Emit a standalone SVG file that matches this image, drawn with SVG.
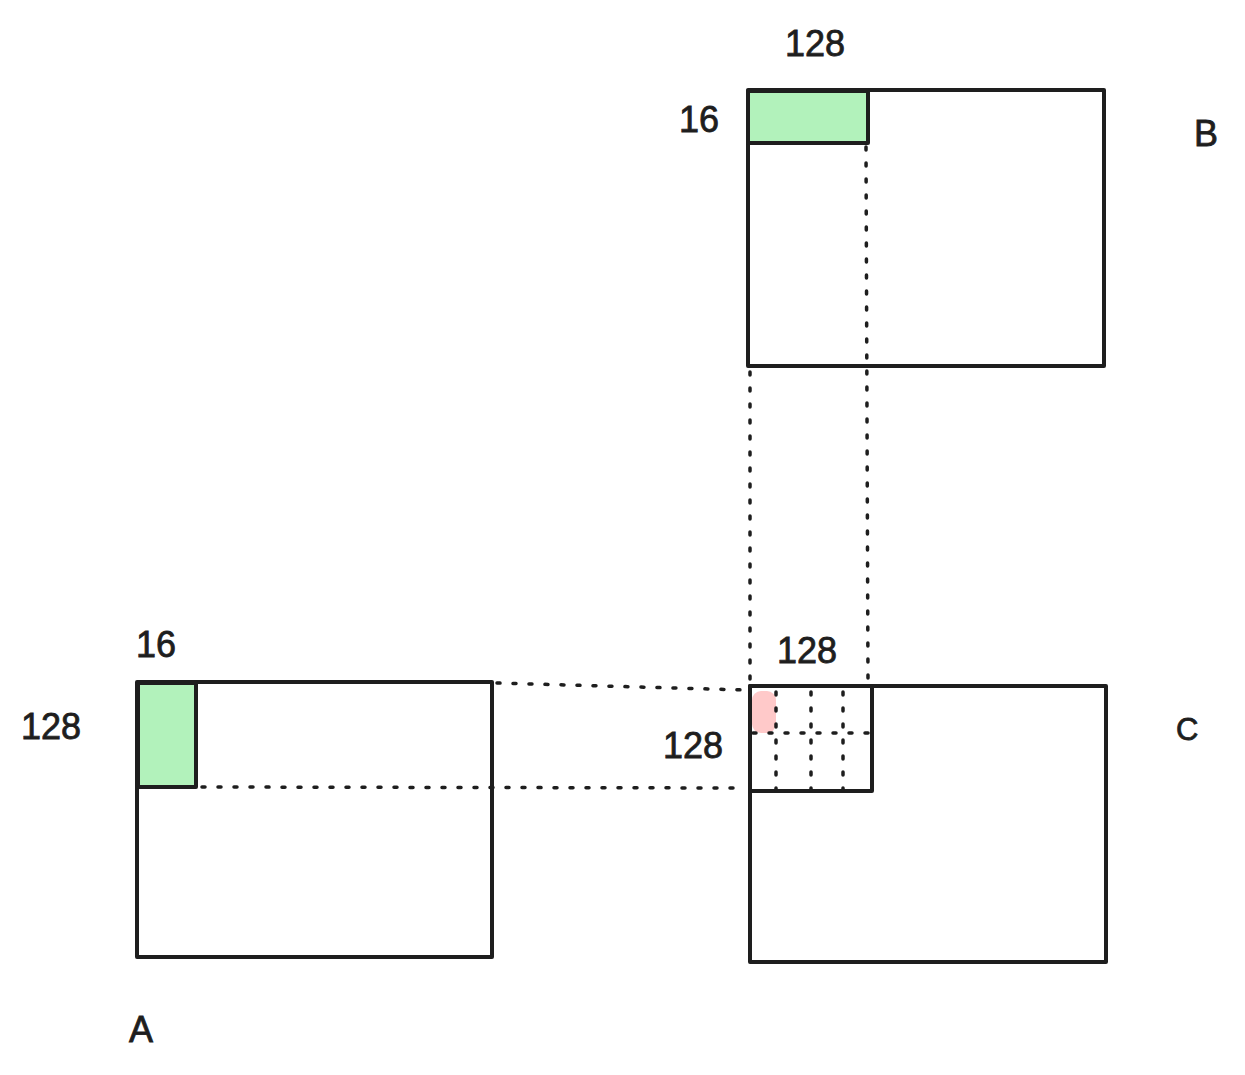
<svg xmlns="http://www.w3.org/2000/svg" width="1245" height="1075" viewBox="0 0 1245 1075">
<style>
.box{fill:none;stroke:#1e1e1e;stroke-width:4;stroke-linejoin:round}
.green{fill:#b2f2bb;stroke:#1e1e1e;stroke-width:4;stroke-linejoin:round}
.pink{fill:#ffc9c9;stroke:none}
.dot{fill:none;stroke:#1e1e1e;stroke-width:3.5;stroke-linecap:round;stroke-dasharray:3 13}
.lbl{font-family:"Liberation Sans",Arial,sans-serif;font-size:36px;fill:#1e1e1e;stroke:#1e1e1e;stroke-width:0.8}
</style>
<rect width="1245" height="1075" fill="#ffffff"/>
<g id="B">
<rect class="box" x="748" y="90" width="356" height="276"/>
<rect class="green" x="748" y="91" width="120" height="52"/>
<text class="lbl" x="1194" y="146">B</text>
<text class="lbl" x="815" y="56" text-anchor="middle">128</text>
<text class="lbl" x="679" y="132">16</text>
</g>
<g id="A">
<rect class="box" x="137" y="682" width="355" height="275"/>
<rect class="green" x="138" y="683" width="58" height="104"/>
<text class="lbl" x="136" y="657">16</text>
<text class="lbl" x="21" y="739">128</text>
<text class="lbl" x="129" y="1042">A</text>
</g>
<g id="C">
<rect class="box" x="750" y="686" width="356" height="276"/>
<rect class="pink" x="752" y="691" width="24" height="42" rx="9"/>
<rect class="box" x="750" y="686" width="122" height="105"/>
<text class="lbl" x="777" y="663">128</text>
<text class="lbl" x="663" y="758">128</text>
<text class="lbl" x="1176" y="740" style="font-size:31px">C</text>
</g>
<g id="connectors">
<line class="dot" x1="750" y1="372" x2="750" y2="680"/>
<line class="dot" x1="866" y1="147" x2="868" y2="680"/>
<line class="dot" x1="497" y1="683" x2="745" y2="690"/>
<line class="dot" x1="202" y1="787" x2="745" y2="788"/>
<line class="dot" x1="776" y1="692" x2="776" y2="790"/>
<line class="dot" x1="811" y1="692" x2="811" y2="790"/>
<line class="dot" x1="843" y1="692" x2="843" y2="790"/>
<line class="dot" x1="753" y1="733" x2="870" y2="733"/>
</g>
</svg>
